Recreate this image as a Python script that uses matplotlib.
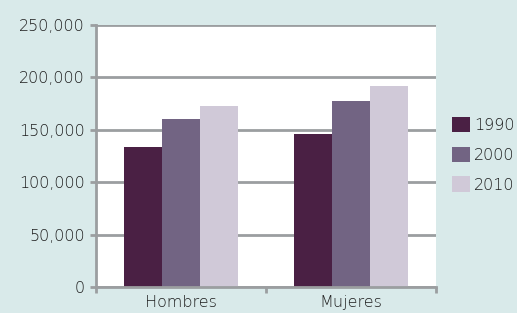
import numpy as np
import matplotlib.pyplot as plt
from matplotlib.ticker import FuncFormatter

# Datos
categorias = ['Hombres', 'Mujeres']
anios = ['1990', '2000', '2010']
valores_1990 = [133900, 146300]
valores_2000 = [160600, 177800]
valores_2010 = [172700, 191800]
colores = ['#4A2044', '#726483', '#D0C9D8']

fondo = '#D9EAEA'
gris = '#9B9EA0'
texto = '#1E1E1E'

plt.rcParams['font.family'] = ['DejaVu Sans']
plt.rcParams['font.weight'] = 'light'
fs = 11.5

fig = plt.figure(figsize=(5.17, 3.13), dpi=100, facecolor=fondo)
ax = fig.add_axes([96 / 517, 1 - 287 / 313, 340 / 517, 262 / 313])
ax.set_facecolor('white')

x = np.arange(len(categorias))
ancho = 0.224
series = [valores_1990, valores_2000, valores_2010]
for i, (serie, anio) in enumerate(zip(series, anios)):
    ax.bar(x + (i - 1) * ancho, serie, width=ancho, color=colores[i],
           label=anio, zorder=3)

ax.set_xlim(-0.5, 1.5)
ax.set_ylim(0, 250000)
ax.set_yticks(range(0, 250001, 50000))
ax.yaxis.set_major_formatter(FuncFormatter(lambda v, p: f'{int(v):,}'))
ax.grid(axis='y', color=gris, linewidth=2, zorder=1)

# Ticks del eje x en los limites de cada categoria
ax.set_xticks([-0.5, 0.5, 1.5])
ax.set_xticklabels([])
ax.set_xticks(x, minor=True)
ax.set_xticklabels(categorias, minor=True)
ax.tick_params(axis='x', which='minor', length=0, pad=6, labelsize=fs, labelcolor=texto)
ax.tick_params(axis='x', which='major', length=4, width=2, color=gris)
ax.tick_params(axis='y', length=4, width=2, color=gris, labelsize=fs, labelcolor=texto, pad=4)

for lado in ['top', 'right']:
    ax.spines[lado].set_visible(False)
for lado in ['left', 'bottom']:
    ax.spines[lado].set_color(gris)
    ax.spines[lado].set_linewidth(2)
    ax.spines[lado].set_zorder(4)

ax.legend(loc='center left', bbox_to_anchor=(1.047, 0.505), frameon=False,
          fontsize=fs, labelcolor=texto, handlelength=1.12, handleheight=1.12,
          handletextpad=0.25, labelspacing=0.85, borderaxespad=0, borderpad=0)

fig.savefig('out.png', dpi=100, facecolor=fondo)
